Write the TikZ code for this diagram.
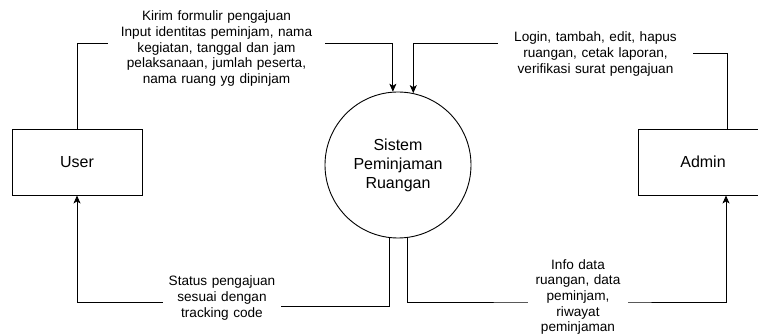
\documentclass[tikz,border=0pt]{standalone}
\usepackage{fontspec}
\setmainfont{Liberation Sans}
\usetikzlibrary{arrows.meta}
\begin{document}
\begin{tikzpicture}[x=1pt,y=-1pt,
  ent/.style={draw, line width=0.9pt, minimum width=130pt, minimum height=66pt, inner sep=0pt, font=\fontsize{16}{19}\selectfont},
  proc/.style={draw, circle, line width=0.9pt, minimum size=146pt, inner sep=0pt, align=center, font=\fontsize{16}{19}\selectfont},
  lbl/.style={fill=white, align=center, inner xsep=0pt, inner ysep=1pt, font=\fontsize{13.6}{15.7}\selectfont},
  arr/.style={line width=0.9pt, -{Stealth[length=8pt,width=7pt,inset=2pt]}}]
\clip (0,0) rectangle (758,334);
\fill[white] (0,0) rectangle (758,334);
\node[ent] (user) at (77,162) {User};
\node[ent] (admin) at (703,162) {Admin};
\node[proc] (sys) at (398,165) {Sistem\\Peminjaman\\Ruangan};
% connectors
\draw[arr] (user.north) |- (222,43) -| (sys.94.7);
\draw[arr] ([xshift=24pt]admin.north) |- (595,53) -- (595,43) -| (sys.78.9);
\draw[arr] (sys.263.7) |- (222,306) -- (222,302) -| (user.south);
\draw[arr] (sys.277.1) |- (578,302) -| ([xshift=23pt]admin.south);
% labels
\node[lbl, text width=217pt] (l1) at (216.5,48.5) {Kirim formulir pengajuan\\Input identitas peminjam, nama\\kegiatan, tanggal dan jam\\pelaksanaan, jumlah peserta,\\nama ruang yg dipinjam};
\node[lbl, text width=195pt] (l2) at (595.5,54) {Login, tambah, edit, hapus\\ruangan, cetak laporan,\\verifikasi surat pengajuan};
\node[lbl, text width=118pt] (l3) at (222,298) {Status pengajuan\\sesuai dengan\\tracking code};
\node[lbl, text width=100pt] (l4) at (578,297) {Info data\\ruangan, data\\peminjam,\\riwayat\\peminjaman};
\end{tikzpicture}
\end{document}
